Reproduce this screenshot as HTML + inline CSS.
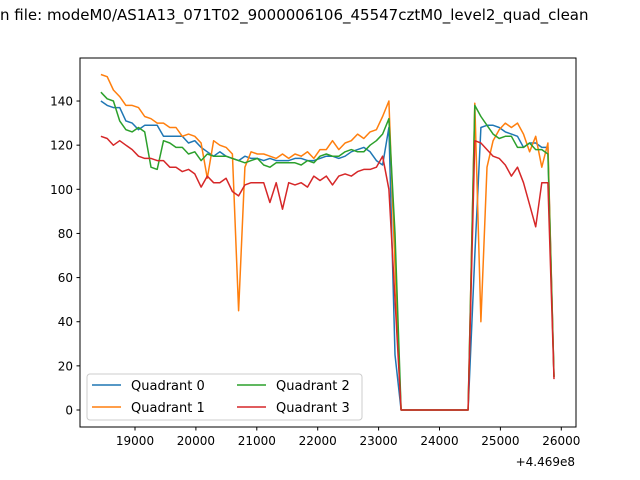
<!DOCTYPE html>
<html><head><meta charset="utf-8"><style>
body{margin:0;background:#fff;}
svg{display:block;font-family:"Liberation Sans","DejaVu Sans",sans-serif;}
</style></head><body>
<svg id="chart" width="640" height="480" viewBox="0 0 640 480">
<text x="0" y="20" font-size="15" style="font-family:'DejaVu Sans','Liberation Sans',sans-serif">n file: modeM0/AS1A13_071T02_9000006106_45547cztM0_level2_quad_clean</text>
<rect x="80" y="58" width="496" height="369" fill="none" stroke="#000" stroke-width="1"/>
<g id="xticks"></g><g id="yticks"></g><g id="series"></g>
<text x="575" y="466" font-size="12" text-anchor="end" style="font-family:'DejaVu Sans',sans-serif">+4.469e8</text>
<g>
<rect x="87" y="374" width="275" height="46" rx="3" fill="#fff" fill-opacity="0.8" stroke="#ccc"/>
<line x1="92" y1="385" x2="121" y2="385" stroke="#1f77b4" stroke-width="1.5"/>
<text x="131" y="390" font-size="13" style="font-family:'DejaVu Sans',sans-serif">Quadrant 0</text>
<line x1="92" y1="407" x2="121" y2="407" stroke="#ff7f0e" stroke-width="1.5"/>
<text x="131" y="412" font-size="13" style="font-family:'DejaVu Sans',sans-serif">Quadrant 1</text>
<line x1="237" y1="385" x2="266" y2="385" stroke="#2ca02c" stroke-width="1.5"/>
<text x="276" y="390" font-size="13" style="font-family:'DejaVu Sans',sans-serif">Quadrant 2</text>
<line x1="237" y1="407" x2="266" y2="407" stroke="#d62728" stroke-width="1.5"/>
<text x="276" y="412" font-size="13" style="font-family:'DejaVu Sans',sans-serif">Quadrant 3</text>
</g>
</svg>
<script>
const xTicks=[19000,20000,21000,22000,23000,24000,25000,26000];
const yTicks=[0,20,40,60,80,100,120,140];
const times=[];
for(let i=0;i<47;i++)times.push(18440+i*102.8);
times.push(23270);
for(let t=23370;t<=24470;t+=100)times.push(t);
for(let t=24580;t<=25880;t+=100)times.push(t);
const q0=[140,138,137,137,131,130,127,129,129,129,124,124,124,124,121,122,119,117,115,117,115,114,113,115,114,114,113,114,113,113,113,114,114,113,113,114,115,115,114,115,117,118,119,117,113,111,128,25,0,0,0,0,0,0,0,0,0,0,0,0,70,128,129,129,128,126,125,124,119,121,121,119,119,15];
const q1=[152,151,145,142,138,138,137,133,132,130,130,128,128,124,125,124,121,105,122,120,119,116,45,110,117,116,116,115,114,116,114,116,115,117,114,118,118,122,118,121,122,125,123,126,127,133,140,65,0,0,0,0,0,0,0,0,0,0,0,0,139,40,110,122,127,130,128,130,125,117,124,110,121,15];
const q2=[144,141,140,131,127,126,128,126,110,109,122,121,119,119,116,117,113,116,115,115,115,114,113,112,113,114,111,110,112,112,112,112,111,113,112,115,116,115,115,117,118,117,117,120,122,125,132,80,0,0,0,0,0,0,0,0,0,0,0,0,138,133,129,125,123,124,124,119,119,121,118,118,116,15];
const q3=[124,123,120,122,120,118,115,114,114,113,113,110,110,108,109,107,101,106,103,103,105,99,97,102,103,103,103,94,103,91,103,102,103,101,106,104,106,102,106,107,106,108,109,109,110,115,100,50,0,0,0,0,0,0,0,0,0,0,0,0,122,121,118,115,114,111,106,110,103,93,83,103,103,14];
const seriesList=[["q0",q0,"#1f77b4"],["q1",q1,"#ff7f0e"],["q2",q2,"#2ca02c"],["q3",q3,"#d62728"]];
const NS="http://www.w3.org/2000/svg";
function xs(v){return 135+(v-19000)*0.0609;}
function ys(v){return 410-v*2.207;}
const xg=document.getElementById('xticks');
xTicks.forEach(v=>{
 const l=document.createElementNS(NS,'line');
 
 
 l.setAttribute('x1',xs(v));l.setAttribute('x2',xs(v));l.setAttribute('y1',427);l.setAttribute('y2',430.5);l.setAttribute('stroke','#000');
 xg.appendChild(l);
 const t=document.createElementNS(NS,'text');
 
 
 t.setAttribute('x',xs(v));t.setAttribute('y',445);t.setAttribute('font-size','12');t.setAttribute('text-anchor','middle');
 t.setAttribute('style',"font-family:'DejaVu Sans',sans-serif");
 t.textContent=v;xg.appendChild(t);
});
const yg=document.getElementById('yticks');
yTicks.forEach(v=>{
 const l=document.createElementNS(NS,'line');
 
 
 l.setAttribute('x1',76.5);l.setAttribute('x2',80);l.setAttribute('y1',ys(v));l.setAttribute('y2',ys(v));l.setAttribute('stroke','#000');
 yg.appendChild(l);
 const t=document.createElementNS(NS,'text');
 
 
 t.setAttribute('x',73);t.setAttribute('y',ys(v)+4.5);t.setAttribute('font-size','12');t.setAttribute('text-anchor','end');
 t.setAttribute('style',"font-family:'DejaVu Sans',sans-serif");
 t.textContent=v;yg.appendChild(t);
});
const sg=document.getElementById('series');
seriesList.forEach(([name,vals,col])=>{
 const p=document.createElementNS(NS,'polyline');
 
 
 p.setAttribute('points',vals.map((v,i)=>xs(times[i]).toFixed(1)+','+ys(v).toFixed(1)).join(' '));
 p.setAttribute('fill','none');p.setAttribute('stroke',col);p.setAttribute('stroke-width','1.5');p.setAttribute('stroke-linejoin','round');
 sg.appendChild(p);
});
</script>
</body></html>
